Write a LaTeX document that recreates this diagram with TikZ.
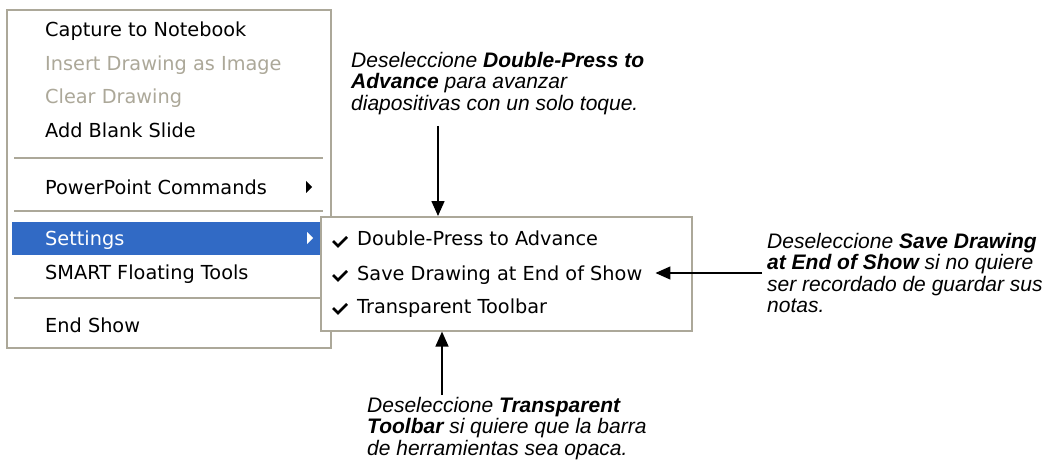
\documentclass[tikz,border=0pt]{standalone}
\usepackage{fontspec}
\setmainfont{Liberation Sans}
\newfontfamily\menufont{DejaVu Sans}
\usetikzlibrary{arrows.meta}

\begin{document}
\begin{tikzpicture}[x=1pt,y=-1pt,
        item/.style={anchor=base west,inner sep=0pt,font=\menufont\fontsize{19.3}{22}\selectfont},
        nota/.style={anchor=north west,inner sep=0pt,align=left,font=\fontsize{21}{21.5}\selectfont\itshape},
        caja/.style={draw=xpgris,line width=1.6pt,fill=white,anchor=north west,inner sep=0pt},
        flecha/.style={line width=1.5pt,-{Triangle[length=15pt,width=13pt]}}]
        %colores
        \definecolor{xpgris}{HTML}{ACA899}
        \definecolor{xpazul}{HTML}{316AC5}

        \useasboundingbox (0,0) rectangle (1058,468);

        % Menu principal
        \node[caja,minimum width=324pt,minimum height=338pt] (menu) at (6,9) {};
        % fila resaltada
        \fill[xpazul] (12,222) rectangle (326,255);
        % separadores
        \foreach \y in {158,211,298}
        \draw[xpgris,line width=1.3pt] (14,\y) -- (323,\y);

        \foreach \y/\txt/\col [count=\i] in {37/Capture to Notebook/black,71/Insert Drawing as Image/xpgris,104/Clear Drawing/xpgris,138/Add Blank Slide/black,194/PowerPoint Commands/black,245/Settings/white,279/SMART Floating Tools/black,332/End Show/black}
        \node[item,text=\col] (m\i) at (45,\y) {\txt};

        % triangulos de submenu
        \fill (306,181) -- (312,187) -- (306,193) -- cycle;
        \fill[white] (307,232) -- (313,238) -- (307,244) -- cycle;

        % Submenu Settings
        \node[caja,minimum width=371pt,minimum height=114pt] (sub) at (320,216) {};
        \foreach \y/\txt [count=\i] in {245/Double-Press to Advance,280/Save Drawing at End of Show,313/Transparent Toolbar}
        \node[item] (s\i) at (357,\y) {\txt};
        % marcas
        \foreach \y in {242,276,309}
        \draw[line width=2.6pt] (333,\y-1) -- (338,\y+4) -- (347,\y-5);

        % Notas
        \node[nota] (n1) at (351,52) {Deseleccione \textbf{Double-Press to}\\\textbf{Advance} para avanzar\\diapositivas con un solo toque.};
        \node[nota] (n2) at (767,233) {Deseleccione \textbf{Save Drawing}\\\textbf{at End of Show} si no quiere\\ser recordado de guardar sus\\notas.};
        \node[nota] (n3) at (367,397) {Deseleccione \textbf{Transparent}\\\textbf{Toolbar} si quiere que la barra\\de herramientas sea opaca.};

        % Flechas
        \coordinate (a1) at (438,126);
        \draw[flecha] (a1) -- (a1 |- sub.north);
        \coordinate (a2) at (762,273);
        \draw[flecha] (a2) -- ([xshift=13pt]s2.east |- a2);
        \coordinate (a3) at (442,395);
        \draw[flecha] (a3) -- (a3 |- sub.south);
    \end{tikzpicture}
\end{document}
